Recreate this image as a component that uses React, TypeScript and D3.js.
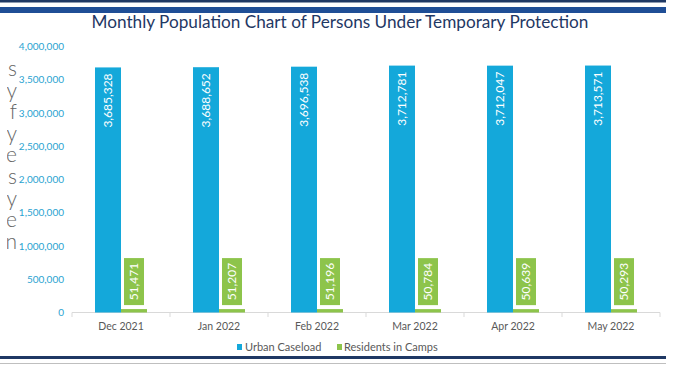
import React from "react";
import * as d3 from "d3";

const categories = ["Dec 2021", "Jan 2022", "Feb 2022", "Mar 2022", "Apr 2022", "May 2022"];
const urbanCaseload = [3685328, 3688652, 3696538, 3712781, 3712047, 3713571];
const residentsInCamps = [51471, 51207, 51196, 50784, 50639, 50293];
const yTicks = [0, 500000, 1000000, 1500000, 2000000, 2500000, 3000000, 3500000, 4000000];
const seriesNames = ["Urban Caseload", "Residents in Camps"];
const sideLetters = ["s", "y", "f", "y", "e", "s", "y", "e", "n"];

const W = 681;
const H = 367;
const BLUE = "#14a8da";
const GREEN = "#8dc44b";
const NAVY = "#1f3864";
const FONT = "Lato, 'Open Sans', sans-serif";

export default function App() {
  const x = d3.scaleBand<string>().domain(categories).range([72, 660]).padding(0);
  const y = d3.scaleLinear().domain([0, 4000000]).range([312.5, 46.5]);
  const barW = 26;
  const fmt = d3.format(",");
  const series = [
    { name: seriesNames[0], values: urbanCaseload, color: BLUE },
    { name: seriesNames[1], values: residentsInCamps, color: GREEN },
  ];
  const inner = d3.scaleBand<string>().domain(seriesNames).range([0, barW * 2]);

  return (
    <svg width={W} height={H} style={{ position: "absolute", left: 0, top: 0, background: "#fff" }} fontFamily={FONT}>
      <defs>
        <clipPath id="leftClip">
          <rect x={7} y={0} width={12} height={H} />
        </clipPath>
      </defs>
      {/* top rules */}
      <rect x={0} y={0} width={666} height={2.5} fill={NAVY} />
      <rect x={0} y={7} width={666} height={6} fill="#1f4e96" />
      {/* title */}
      <text x={340} y={28} textAnchor="middle" fontSize={17.2} fill={NAVY}>
        Monthly Population Chart of Persons Under Temporary Protection
      </text>
      {/* clipped paragraph letters at left */}
      <g clipPath="url(#leftClip)">
        {sideLetters.map((l, i) => (
          <text key={i} x={17} y={76 + i * 21.6} textAnchor="end" fontSize={21} fontWeight={300} fill="#666666">
            {l}
          </text>
        ))}
      </g>
      {/* y axis labels */}
      {yTicks.map((t) => (
        <text key={t} x={64} y={y(t)} dy="0.35em" textAnchor="end" fontSize={10} fill="#2aa3d1">
          {fmt(t)}
        </text>
      ))}
      {/* x axis line and ticks */}
      <line x1={72} x2={660} y1={312.5} y2={312.5} stroke="#d9d9d9" strokeWidth={1} />
      {[...categories.map((c) => x(c) as number), 660].map((tx, i) => (
        <line key={i} x1={tx} x2={tx} y1={312.5} y2={317} stroke="#d9d9d9" strokeWidth={1} />
      ))}
      {/* bars */}
      {series.map((s) =>
        s.values.map((v, i) => {
          const cx0 = (x(categories[i]) as number) + x.bandwidth() / 2 - barW;
          const bx = cx0 + (inner(s.name) as number);
          const top = y(v);
          return (
            <rect key={s.name + i} x={bx} y={top} width={barW} height={y(0) - top} fill={s.color} />
          );
        })
      )}
      {/* blue labels */}
      {urbanCaseload.map((v, i) => {
        const bx = (x(categories[i]) as number) + x.bandwidth() / 2 - barW + (inner(seriesNames[0]) as number);
        const cx = bx + barW / 2;
        const top = y(v);
        return (
          <text
            key={"bl" + i}
            transform={`translate(${cx},${top + 6}) rotate(-90)`}
            textAnchor="end"
            dy="0.35em"
            fontSize={12}
            fill="#ffffff"
          >
            {fmt(v)}
          </text>
        );
      })}
      {/* green labels with boxes */}
      {residentsInCamps.map((v, i) => {
        const bx = (x(categories[i]) as number) + x.bandwidth() / 2 - barW + (inner(seriesNames[1]) as number);
        const cx = bx + barW / 2;
        const top = y(v);
        const boxH = 47;
        const boxW = 20;
        const boxBottom = top - 4;
        return (
          <g key={"gl" + i}>
            <rect x={cx - boxW / 2} y={boxBottom - boxH} width={boxW} height={boxH} fill={GREEN} />
            <text
              transform={`translate(${cx},${boxBottom - boxH / 2}) rotate(-90)`}
              textAnchor="middle"
              dy="0.35em"
              fontSize={12}
              fill="#ffffff"
            >
              {fmt(v)}
            </text>
          </g>
        );
      })}
      {/* x labels */}
      {categories.map((c) => (
        <text key={c} x={(x(c) as number) + x.bandwidth() / 2} y={330} textAnchor="middle" fontSize={10.5} fill="#595959">
          {c}
        </text>
      ))}
      {/* legend */}
      <rect x={237} y={344} width={5} height={6} fill={BLUE} />
      <text x={245} y={351} fontSize={11} fill="#595959">{seriesNames[0]}</text>
      <rect x={337} y={344} width={5} height={6} fill={GREEN} />
      <text x={344} y={351} fontSize={11} fill="#595959">{seriesNames[1]}</text>
      {/* bottom rules */}
      <rect x={0} y={356} width={666} height={3} fill={NAVY} />
      <rect x={0} y={363} width={666} height={1} fill="#bfbfbf" />
    </svg>
  );
}
